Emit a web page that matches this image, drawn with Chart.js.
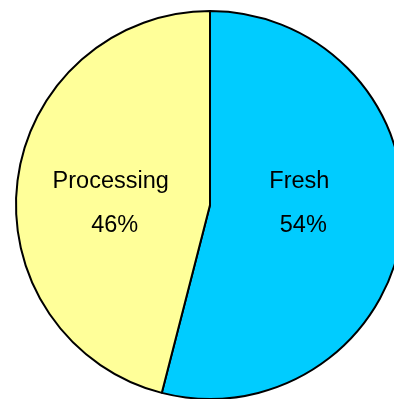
<!DOCTYPE html>
<html>
<head>
<meta charset="utf-8">
<script src="https://cdn.jsdelivr.net/npm/chart.js@4/dist/chart.umd.min.js"></script>
<style>
  html, body { margin: 0; padding: 0; background: #fff; overflow: hidden; }
  #wrap { width: 394px; height: 399px; overflow: hidden; }
</style>
</head>
<body>
<div id="wrap"><canvas id="supply" width="420" height="400"></canvas></div>
<script>
var categories = ["Fresh", "Processing"];
var shares = [54, 46];
var sliceColours = ["#00ccff", "#ffff99"];

// writes the name and the percentage inside each slice
var sliceLabels = {
    id: "sliceLabels",
    afterDatasetsDraw: function (chart) {
        var c = chart.ctx;
        var arcs = chart.getDatasetMeta(0).data;
        c.save();
        c.fillStyle = "#000";
        c.font = "23.5px Arial, 'Liberation Sans', sans-serif";
        c.textAlign = "center";
        c.textBaseline = "alphabetic";
        arcs.forEach(function (arc, i) {
            var mid = (arc.startAngle + arc.endAngle) / 2;
            var x = arc.x + Math.cos(mid) * arc.outerRadius * 0.49 - 5;
            var y = arc.y;
            c.fillText(categories[i], x, y - 17);
            c.fillText(shares[i] + "%", x + 4, y + 27);
        });
        c.restore();
    }
};

var ctx = document.getElementById("supply");
var myChart = new Chart(ctx, {
    type: "pie",
    data: {
        labels: categories,
        datasets: [
            {
                data: shares,
                backgroundColor: sliceColours,
                borderColor: "#000",
                borderWidth: 2,
                hoverOffset: 0,
            },
        ],
    },
    options: {
        responsive: false,
        animation: false,
        layout: { padding: { left: 15, right: 15, top: 10, bottom: 0 } },
        plugins: {
            legend: { display: false },
            tooltip: { enabled: false },
        },
    },
    plugins: [sliceLabels],
});
</script>
</body>
</html>
